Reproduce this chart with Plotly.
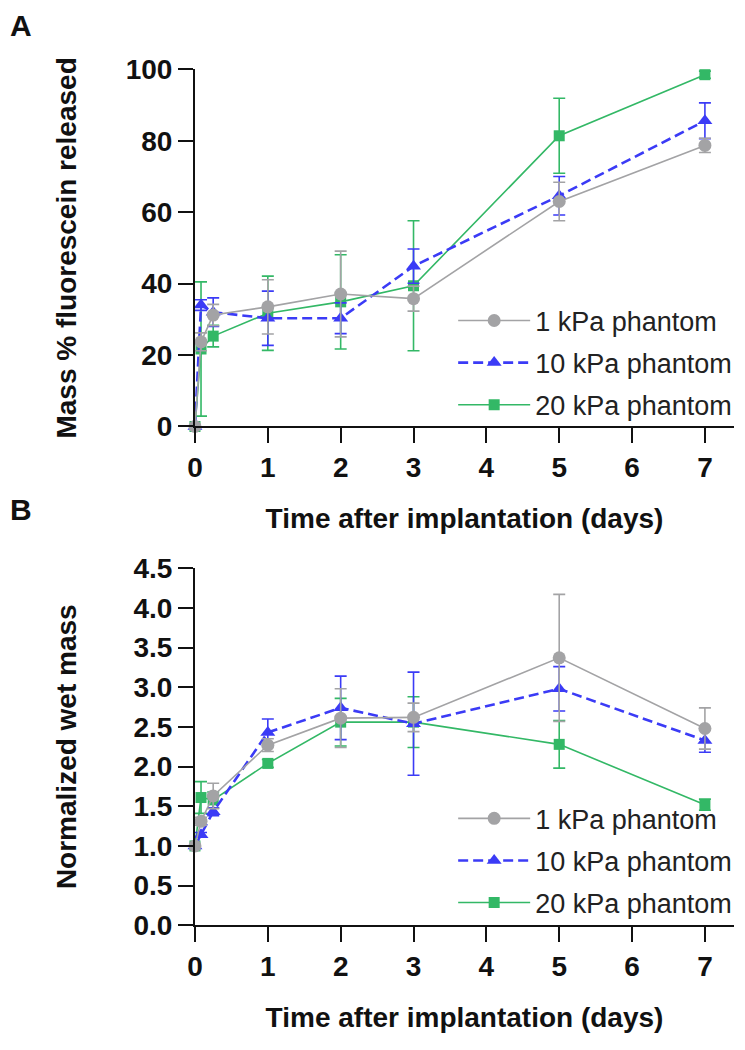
import plotly.graph_objects as go

# ---- data ----
days = [0, 0.083, 0.25, 1, 2, 3, 5, 7]
series_names = ["1 kPa phantom", "10 kPa phantom", "20 kPa phantom"]

# Panel A: mass % fluorescein released
rel_1kpa = [0, 23.7, 31.2, 33.5, 37.1, 35.8, 63.0, 78.7]
rel_1kpa_err = [0, 2.5, 3.0, 7.6, 12.0, 3.5, 5.4, 2.0]
rel_10kpa = [0, 34.0, 32.0, 30.3, 30.3, 44.9, 64.6, 85.6]
rel_10kpa_err = [0, 1.5, 4.0, 7.6, 4.3, 4.8, 5.4, 5.0]
rel_20kpa = [0, 21.7, 25.3, 31.7, 34.9, 39.4, 81.4, 98.5]
rel_20kpa_err = [0, 18.8, 3.0, 10.4, 13.2, 18.2, 10.5, 1.0]

# Panel B: normalized wet mass
wm_1kpa = [1.0, 1.31, 1.63, 2.27, 2.61, 2.62, 3.37, 2.48]
wm_1kpa_err = [0, 0.05, 0.16, 0.08, 0.37, 0.18, 0.80, 0.26]
wm_10kpa = [1.0, 1.14, 1.43, 2.43, 2.74, 2.54, 2.98, 2.33]
wm_10kpa_err = [0, 0.03, 0.05, 0.17, 0.40, 0.65, 0.28, 0.15]
wm_20kpa = [1.0, 1.61, 1.58, 2.04, 2.56, 2.56, 2.28, 1.52]
wm_20kpa_err = [0, 0.20, 0.10, 0.05, 0.30, 0.32, 0.30, 0.07]

x_ticks = [0, 1, 2, 3, 4, 5, 6, 7]
yA_ticks = [0, 20, 40, 60, 80, 100]
yB_ticks = [0.0, 0.5, 1.0, 1.5, 2.0, 2.5, 3.0, 3.5, 4.0, 4.5]
yB_ticktext = ["0.0", "0.5", "1.0", "1.5", "2.0", "2.5", "3.0", "3.5", "4.0", "4.5"]

# ---- styles ----
GRAY = "#a3a3a5"
BLUE = "#3b3bf6"
GREEN = "#33b866"
styles = {
    "1 kPa phantom": dict(color=GRAY, symbol="circle", size=13, dash="solid", lw=1.6),
    "10 kPa phantom": dict(color=BLUE, symbol="triangle-up", size=13, dash="10px,5px", lw=2.6),
    "20 kPa phantom": dict(color=GREEN, symbol="square", size=11, dash="solid", lw=1.6),
}

W, H = 745, 1050
def px(xp):
    return xp / W
def py(yp):
    return 1 - yp / H

x_left = 189
day_px = 73.64
x_max = 7.4
x_right = x_left + x_max * day_px

fig = go.Figure()

panelA = {"1 kPa phantom": (rel_1kpa, rel_1kpa_err),
          "10 kPa phantom": (rel_10kpa, rel_10kpa_err),
          "20 kPa phantom": (rel_20kpa, rel_20kpa_err)}
panelB = {"1 kPa phantom": (wm_1kpa, wm_1kpa_err),
          "10 kPa phantom": (wm_10kpa, wm_10kpa_err),
          "20 kPa phantom": (wm_20kpa, wm_20kpa_err)}

draw_order = ["20 kPa phantom", "10 kPa phantom", "1 kPa phantom"]
for panel, xa, ya, leg in [(panelA, "x", "y", "legend"), (panelB, "x2", "y2", "legend2")]:
    for name in draw_order:
        vals, err = panel[name]
        st = styles[name]
        fig.add_trace(go.Scatter(
            x=days, y=vals, name=name, xaxis=xa, yaxis=ya, legend=leg,
            legendgroup=leg + name, legendrank=series_names.index(name) + 1,
            mode="lines+markers", cliponaxis=False,
            line=dict(color=st["color"], width=st["lw"], dash=st["dash"]),
            marker=dict(color=st["color"], symbol=st["symbol"], size=st["size"],
                        line=dict(width=0)),
            error_y=dict(type="data", array=err, visible=True, color=st["color"],
                         thickness=1.6, width=6),
        ))

FONT = "Liberation Sans, Arial, sans-serif"
tick_font = dict(family=FONT, size=28, color="#111", weight="bold")
title_font = dict(family=FONT, size=28, color="#111", weight="bold")
leg_font = dict(family=FONT, size=27, color="#222")

def xaxis_cfg(anchor):
    return dict(range=[0, x_max], domain=[px(x_left), px(x_right)], anchor=anchor,
                tickvals=x_ticks, ticks="outside", ticklen=15, tickwidth=2, tickcolor="#111",
                showline=True, linewidth=2, linecolor="#111", showgrid=False, zeroline=False,
                tickfont=tick_font,
                title=dict(text="Time after implantation (days)", font=title_font, standoff=26))

def yaxis_cfg(anchor, rng, dom, tv, tt, title, standoff):
    return dict(range=rng, domain=dom, anchor=anchor, tickvals=tv, ticktext=tt,
                ticks="outside", ticklen=15, tickwidth=2, tickcolor="#111",
                showline=True, linewidth=2, linecolor="#111", showgrid=False, zeroline=False,
                tickfont=tick_font,
                title=dict(text=title, font=title_font, standoff=standoff))

legend_common = dict(xanchor="left", yanchor="top", font=leg_font, bgcolor="rgba(0,0,0,0)",
                     tracegroupgap=4, itemwidth=72, traceorder="grouped")

fig.update_layout(
    width=W, height=H, margin=dict(l=0, r=0, t=0, b=0),
    paper_bgcolor="white", plot_bgcolor="white",
    xaxis=xaxis_cfg("y"),
    yaxis=yaxis_cfg("x", [0, 100], [py(424), py(56)], yA_ticks, [str(v) for v in yA_ticks],
                    "Mass % fluorescein released", 41),
    xaxis2=xaxis_cfg("y2"),
    yaxis2=yaxis_cfg("x2", [0, 4.5], [py(938), py(570)], yB_ticks, yB_ticktext,
                     "Normalized wet mass", 49),
    legend=dict(x=px(450), y=py(290), **legend_common),
    legend2=dict(x=px(450), y=py(803), **legend_common),
    showlegend=True,
    annotations=[
        dict(text="A", x=px(0), y=py(-8), xref="paper", yref="paper", xanchor="left", yanchor="top",
             showarrow=False, font=dict(family=FONT, size=30, color="#111", weight="bold")),
        dict(text="B", x=px(0), y=py(490), xref="paper", yref="paper", xanchor="left", yanchor="top",
             showarrow=False, font=dict(family=FONT, size=30, color="#111", weight="bold")),
    ],
)

fig.write_html("out.html", config={"displayModeBar": False},
               post_script="document.body.style.margin='0';")
